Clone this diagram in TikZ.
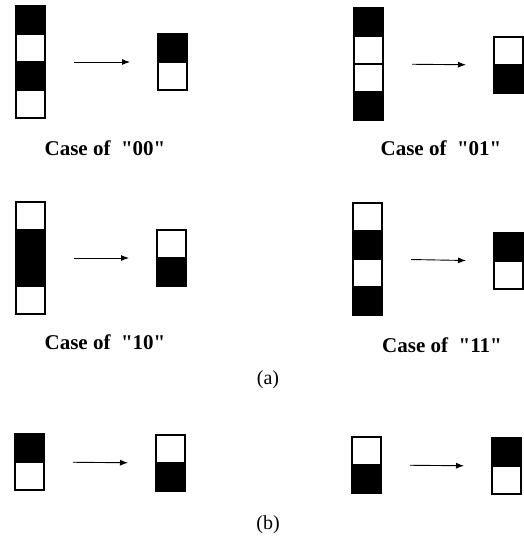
\documentclass[tikz,border=0pt]{standalone}
\usepackage{fontspec}
\setmainfont{Liberation Serif}
\usetikzlibrary{arrows.meta}
\newcommand{\qq}[1]{\textquotedbl#1\textquotedbl}
\begin{document}
\begin{tikzpicture}[x=1pt,y=-1pt,
  cellbase/.style={rectangle, draw=black, line width=1.3pt, minimum width=29pt, minimum height=28pt, inner sep=0pt, outer sep=0pt, anchor=north west},
  wc/.style={cellbase, fill=white},
  bc/.style={cellbase, fill=black},
  bctall/.style={cellbase, fill=black, minimum height=56pt},
  arr/.style={-{Latex[length=8pt,width=6pt]}, line width=0.9pt, shorten <=29pt, shorten >=28pt},
  caselbl/.style={font=\fontsize{21}{24}\selectfont\bfseries, inner sep=0pt},
  sublbl/.style={font=\fontsize{20}{22}\selectfont, inner sep=0pt}]
\useasboundingbox (0,0) rectangle (524,543);
% Case 00
\node[bc] (c00a) at (16,6) {};
\node[wc] (c00b) at (16,34) {};
\node[bc] (c00c) at (16,62) {};
\node[wc] (c00d) at (16,90) {};
\node[bc] (r00a) at (158,34) {};
\node[wc] (r00b) at (158,62) {};
\draw[arr] (c00c.north east) -- (r00b.north west);
\node[caselbl] (l00) at (105,148) {Case of \ \qq{00}};
% Case 01
\node[bc] (c01a) at (354,8) {};
\node[wc] (c01b) at (354,36) {};
\node[wc] (c01c) at (354,64) {};
\node[bc] (c01d) at (354,92) {};
\node[wc] (r01a) at (494,37) {};
\node[bc] (r01b) at (494,65) {};
\draw[arr] (c01c.north east) -- (r01b.north west);
\node[caselbl] (l01) at (441,148) {Case of \ \qq{01}};
% Case 10
\node[wc] (c10a) at (16,202) {};
\node[bctall] (c10b) at (16,230) {};
\node[wc] (c10c) at (16,286) {};
\node[wc] (r10a) at (157,230) {};
\node[bc] (r10b) at (157,258) {};
\draw[arr] (c10b.east) -- (r10b.north west);
\node[caselbl] (l10) at (105,342) {Case of \ \qq{10}};
% Case 11
\node[wc] (c11a) at (353,203) {};
\node[bc] (c11b) at (353,231) {};
\node[wc] (c11c) at (353,259) {};
\node[bc] (c11d) at (353,287) {};
\node[bc] (r11a) at (494,233) {};
\node[wc] (r11b) at (494,261) {};
\draw[arr] (c11c.north east) -- (r11b.north west);
\node[caselbl] (l11) at (442,345) {Case of \ \qq{11}};
\node[sublbl] (la) at (268,380) {(a)};
% (b)
\node[bc] (b1a) at (15,434) {};
\node[wc] (b1b) at (15,462) {};
\node[wc] (b2a) at (156,435) {};
\node[bc] (b2b) at (156,463) {};
\draw[arr] (b1b.north east) -- (b2b.north west);
\node[wc] (b3a) at (352,437) {};
\node[bc] (b3b) at (352,465) {};
\node[bc] (b4a) at (492,438) {};
\node[wc] (b4b) at (492,466) {};
\draw[arr] (b3b.north east) -- (b4b.north west);
\node[sublbl] (lb) at (268,525) {(b)};
\end{tikzpicture}
\end{document}
